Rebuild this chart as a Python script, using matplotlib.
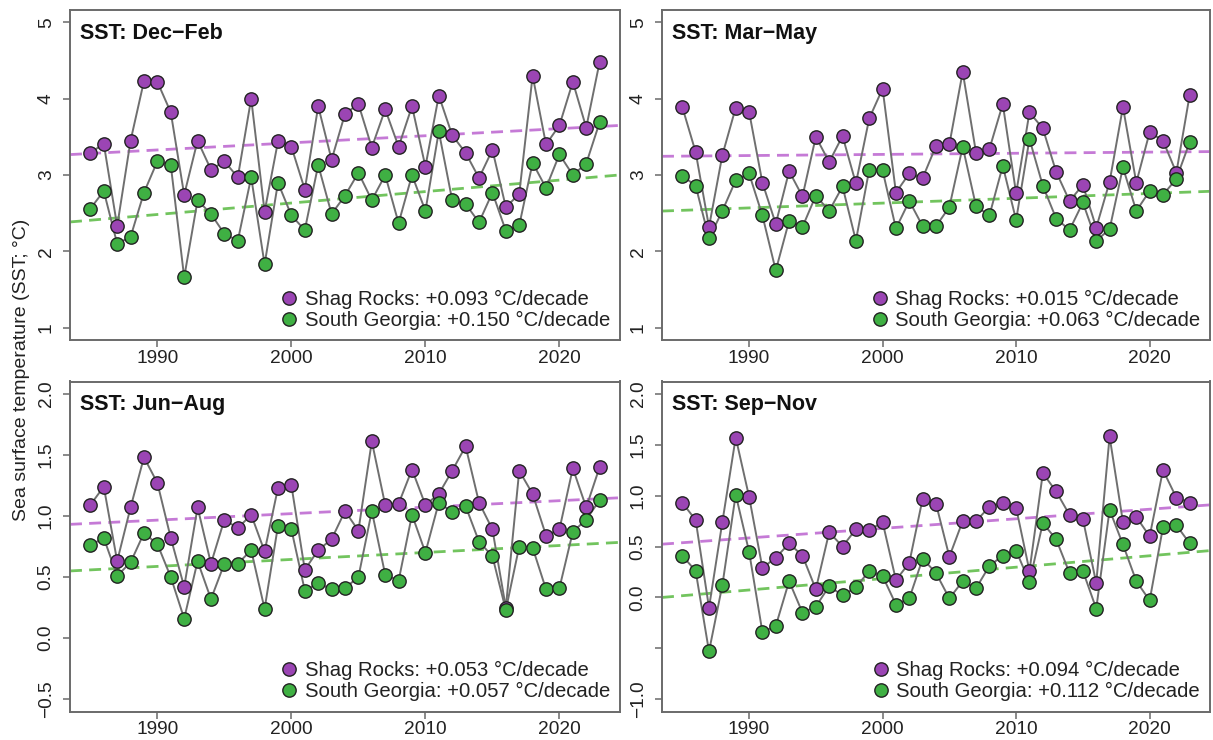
import numpy as np
import matplotlib
matplotlib.use("Agg")
import matplotlib.pyplot as plt

plt.rcParams["font.family"] = ["Liberation Sans", "DejaVu Sans"]

years = np.arange(1985, 2024)

seasons = ["SST: Dec\u2212Feb", "SST: Mar\u2212May", "SST: Jun\u2212Aug", "SST: Sep\u2212Nov"]

# Seasonal mean sea surface temperature (°C)
shag_djf = [3.29, 3.41, 2.33, 3.45, 4.23, 4.22, 3.82, 2.74, 3.45, 3.07,
            3.18, 2.97, 4.00, 2.52, 3.44, 3.37, 2.81, 3.90, 3.20, 3.80,
            3.93, 3.36, 3.86, 3.37, 3.90, 3.11, 4.04, 3.52, 3.29, 2.96,
            3.33, 2.58, 2.75, 4.30, 3.40, 3.65, 4.22, 3.62, 4.48]
sg_djf = [2.56, 2.79, 2.10, 2.19, 2.77, 3.18, 3.13, 1.66, 2.67, 2.49,
          2.23, 2.14, 2.97, 1.83, 2.90, 2.47, 2.28, 3.13, 2.49, 2.73,
          3.03, 2.67, 3.00, 2.37, 3.00, 2.53, 3.57, 2.67, 2.62, 2.38,
          2.77, 2.27, 2.34, 3.16, 2.83, 3.27, 3.00, 3.15, 3.69]

shag_mam = [3.89, 3.30, 2.32, 3.26, 3.88, 3.83, 2.90, 2.36, 3.05, 2.72,
            3.50, 3.17, 3.51, 2.89, 3.74, 4.13, 2.77, 3.02, 2.96, 3.38,
            3.40, 4.35, 3.29, 3.34, 3.93, 2.76, 3.82, 3.61, 3.04, 2.66,
            2.87, 2.31, 2.91, 3.89, 2.90, 3.56, 3.45, 3.03, 4.05]
sg_mam = [2.99, 2.86, 2.17, 2.53, 2.93, 3.02, 2.47, 1.75, 2.40, 2.32,
          2.73, 2.53, 2.85, 2.14, 3.07, 3.06, 2.30, 2.66, 2.33, 2.33,
          2.58, 3.37, 2.59, 2.47, 3.12, 2.41, 3.47, 2.86, 2.43, 2.28,
          2.64, 2.14, 2.29, 3.10, 2.53, 2.79, 2.74, 2.95, 3.43]

shag_jja = [1.09, 1.24, 0.63, 1.07, 1.48, 1.27, 0.82, 0.42, 1.07, 0.61,
            0.97, 0.90, 1.01, 0.71, 1.23, 1.25, 0.56, 0.72, 0.81, 1.04,
            0.88, 1.61, 1.09, 1.10, 1.38, 1.09, 1.18, 1.37, 1.57, 1.11,
            0.89, 0.25, 1.37, 1.18, 0.84, 0.89, 1.39, 1.07, 1.40]
sg_jja = [0.76, 0.82, 0.51, 0.62, 0.86, 0.77, 0.50, 0.16, 0.63, 0.32,
          0.61, 0.61, 0.72, 0.24, 0.92, 0.89, 0.39, 0.45, 0.40, 0.41,
          0.50, 1.04, 0.52, 0.47, 1.01, 0.70, 1.11, 1.03, 1.08, 0.79,
          0.67, 0.23, 0.75, 0.74, 0.40, 0.41, 0.87, 0.97, 1.13]

shag_son = [0.93, 0.76, -0.10, 0.74, 1.57, 0.99, 0.29, 0.39, 0.53, 0.41,
            0.08, 0.64, 0.50, 0.67, 0.66, 0.74, 0.17, 0.34, 0.97, 0.92,
            0.40, 0.75, 0.75, 0.89, 0.93, 0.88, 0.26, 1.22, 1.04, 0.81,
            0.77, 0.14, 1.58, 0.74, 0.79, 0.60, 1.25, 0.98, 0.93]
sg_son = [0.41, 0.26, -0.53, 0.12, 1.01, 0.45, -0.34, -0.28, 0.16, -0.15,
          -0.09, 0.11, 0.02, 0.10, 0.26, 0.21, -0.07, -0.01, 0.38, 0.24,
          -0.01, 0.16, 0.09, 0.31, 0.41, 0.46, 0.15, 0.73, 0.57, 0.24,
          0.26, -0.11, 0.86, 0.52, 0.16, -0.03, 0.69, 0.71, 0.53]

# Linear trends (°C per decade)
shag_trend = [0.093, 0.015, 0.053, 0.094]
sg_trend = [0.150, 0.063, 0.057, 0.112]

shag_series = [shag_djf, shag_mam, shag_jja, shag_son]
sg_series = [sg_djf, sg_mam, sg_jja, sg_son]

y_limits = [(1, 5), (1, 5), (-0.5, 2.0), (-1.0, 2.0)]
y_ticks = [[1, 2, 3, 4, 5], [1, 2, 3, 4, 5],
           [-0.5, 0.0, 0.5, 1.0, 1.5, 2.0],
           [-1.0, -0.5, 0.0, 0.5, 1.0, 1.5, 2.0]]
y_ticklabels = [["1", "2", "3", "4", "5"], ["1", "2", "3", "4", "5"],
                ["\u22120.5", "0.0", "0.5", "1.0", "1.5", "2.0"],
                ["\u22121.0", "", "0.0", "0.5", "1.0", "1.5", "2.0"]]
x_ticks = [1990, 2000, 2010, 2020]

PURPLE = "#9b45b4"
GREEN = "#3fb043"
PURPLE_TREND = "#c57ad6"
GREEN_TREND = "#72c45e"
LINE_GREY = "#6f6f6f"
FRAME_GREY = "#6a6a6a"
EDGE = "#222222"

W, H = 1213, 740
fig = plt.figure(figsize=(W / 100, H / 100), dpi=100)

# panel boxes in pixels: left, right, top, bottom
boxes = [(70, 620, 10, 340), (662, 1210, 10, 340),
         (70, 620, 381.5, 711.5), (662, 1210, 381.5, 711.5)]


def pad_range(lo, hi, frac=0.04):
    d = (hi - lo) * frac
    return lo - d, hi + d


xlo, xhi = pad_range(years.min(), years.max())

for i in range(4):
    l, r, t, b = boxes[i]
    ax = fig.add_axes([l / W, 1 - b / H, (r - l) / W, (b - t) / H])
    shag = np.asarray(shag_series[i])
    sg = np.asarray(sg_series[i])

    # trend lines through the series means with the stated slopes
    xx = np.array([xlo, xhi])
    for vals, slope, col in ((shag, shag_trend[i], PURPLE_TREND),
                             (sg, sg_trend[i], GREEN_TREND)):
        yy = vals.mean() + slope / 10.0 * (xx - years.mean())
        ax.plot(xx, yy, linestyle=(0, (4.3, 2.6)), color=col, lw=2.0, zorder=2)

    ax.plot(years, shag, color=LINE_GREY, lw=1.4, zorder=3)
    ax.plot(years, sg, color=LINE_GREY, lw=1.4, zorder=3)
    ax.plot(years, shag, linestyle="none", marker="o", ms=9.6,
            mfc=PURPLE, mec=EDGE, mew=1.0, zorder=4,
            label=f"Shag Rocks: +{shag_trend[i]:.3f} \u00b0C/decade")
    ax.plot(years, sg, linestyle="none", marker="o", ms=9.6,
            mfc=GREEN, mec=EDGE, mew=1.0, zorder=5,
            label=f"South Georgia: +{sg_trend[i]:.3f} \u00b0C/decade")

    ax.set_xlim(xlo, xhi)
    ax.set_ylim(*pad_range(*y_limits[i]))
    ax.set_xticks(x_ticks)
    ax.set_xticklabels([str(v) for v in x_ticks])
    ax.set_yticks(y_ticks[i])
    ax.set_yticklabels(y_ticklabels[i], rotation=90, va="center")

    ax.tick_params(axis="both", direction="out", length=5, width=1.1,
                   color=FRAME_GREY, labelsize=13.8, labelcolor="#222222")
    ax.tick_params(axis="x", pad=2)
    ax.tick_params(axis="y", pad=6)
    for s in ax.spines.values():
        s.set_color(FRAME_GREY)
        s.set_linewidth(1.4)

    ax.text(0.018, 0.962, seasons[i], transform=ax.transAxes,
            fontsize=15.5, fontweight="bold", ha="left", va="top", color="#111111")

    leg = ax.legend(loc="lower right", bbox_to_anchor=(1.0, 0.0),
                    frameon=False, fontsize=14.6, handlelength=0.7,
                    handletextpad=0.4, labelspacing=0.1,
                    borderaxespad=0.3, borderpad=0.2, markerscale=1.0)
    for txt in leg.get_texts():
        txt.set_color("#222222")

fig.text(22 / W, 0.5, "Sea surface temperature (SST; \u00b0C)", rotation=90,
         ha="center", va="center", fontsize=14, color="#222222")

fig.savefig("out.png", dpi=100, facecolor="white")
